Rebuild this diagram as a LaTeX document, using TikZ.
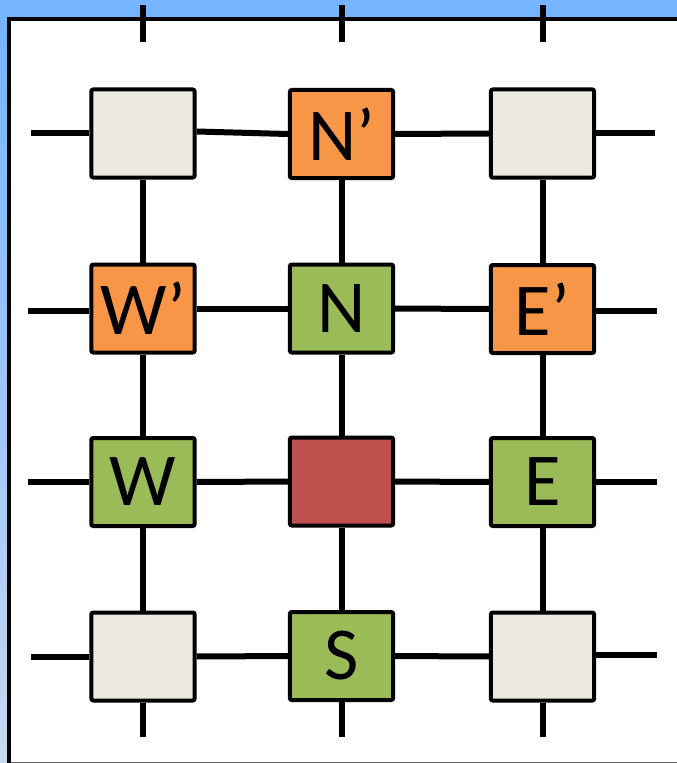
\documentclass[tikz,border=0pt]{standalone}
\usepackage{fontspec}
\setmainfont{Carlito}
\definecolor{slideblue}{RGB}{117,180,254}
\definecolor{paleblue}{RGB}{200,216,240}
\definecolor{idle}{RGB}{236,234,224}
\definecolor{ring}{RGB}{247,150,70}
\definecolor{near}{RGB}{155,187,89}
\definecolor{self}{RGB}{192,80,77}
\begin{document}
\begin{tikzpicture}[x=0.75pt,y=-0.75pt,
  cell/.style={draw=black,line width=3pt,rounded corners=1.5pt,
    minimum width=77.5pt,minimum height=66pt,inner sep=0pt,
    font=\fontsize{56}{60}\selectfont},
  link/.style={line width=4.5pt,line cap=butt}]
\useasboundingbox (0,0) rectangle (677,763);
% slide background and panel
\fill[slideblue] (0,0) rectangle (677,763);
\shade[top color=slideblue,bottom color=paleblue] (0,18) rectangle (9,763);
\fill[white] (8.8,18.8) rectangle (677,763);
\draw[black!60,line width=1pt] (8.8,762.5) -- (677,762.5);
\draw[line width=2.7pt] (8.8,763) -- (8.8,18.8) -- (677,18.8);

% grid of routers
\node[cell,fill=idle] (a1) at (143,133.5) {};
\node[cell,fill=ring] (np) at (341.5,134) {N’};
\node[cell,fill=idle] (a3) at (542.5,133.5) {};
\node[cell,fill=ring] (wp) at (143,308.5) {W’};
\node[cell,fill=near] (n) at (341.5,308.5) {N};
\node[cell,fill=ring] (ep) at (542.5,309) {E’};
\node[cell,fill=near] (w) at (143,482) {W};
\node[cell,fill=self] (c) at (341.5,481.5) {};
\node[cell,fill=near] (e) at (542.5,482) {E};
\node[cell,fill=idle] (d1) at (143,656.5) {};
\node[cell,fill=near] (s) at (341.5,656) {S};
\node[cell,fill=idle] (d3) at (542.5,656.5) {};

% horizontal links
\draw[link] ([yshift=1.5pt]a1.east) -- (np.west);
\draw[link] (np) -- (a3);
\draw[link] (wp) -- (n);
\draw[link] (n) -- (ep);
\draw[link] (w) -- (c);
\draw[link] (c) -- (e);
\draw[link] (d1) -- (s);
\draw[link] (s) -- (d3);
% vertical links
\draw[link] (a1) -- (wp);
\draw[link] (wp) -- (w);
\draw[link] (w) -- (d1);
\draw[link] (np) -- (n);
\draw[link] (n) -- (c);
\draw[link] (c) -- (s);
\draw[link] (a3) -- (ep);
\draw[link] (ep) -- (e);
\draw[link] (e) -- (d3);

% open ends of the mesh
\coordinate (t1) at (143,5);  \coordinate (t1b) at (143,42);
\coordinate (t2) at (341.5,5); \coordinate (t2b) at (341.5,42);
\coordinate (t3) at (542.5,5); \coordinate (t3b) at (542.5,42);
\draw[link] (t1) -- (t1b);
\draw[link] (t2) -- (t2b);
\draw[link] (t3) -- (t3b);
\coordinate (l1) at (31,133.5);
\coordinate (l2) at (28,311);
\coordinate (l3) at (28,482);
\coordinate (l4) at (31,656.5);
\draw[link] (l1) -- (a1.west |- l1);
\draw[link] (l2) -- (wp.west |- l2);
\draw[link] (l3) -- (w.west |- l3);
\draw[link] (l4) -- (d1.west |- l4);
\coordinate (r1) at (655,133.5);
\coordinate (r2) at (657,311);
\coordinate (r3) at (657,482);
\coordinate (r4) at (657,655);
\draw[link] (a3.east |- r1) -- (r1);
\draw[link] (ep.east |- r2) -- (r2);
\draw[link] (e.east |- r3) -- (r3);
\draw[link] (d3.east |- r4) -- (r4);
\coordinate (b1) at (143,737);
\coordinate (b2) at (341.5,737);
\coordinate (b3) at (542.5,737);
\draw[link] (d1) -- (b1);
\draw[link] (s) -- (b2);
\draw[link] (d3) -- (b3);
\end{tikzpicture}
\end{document}
